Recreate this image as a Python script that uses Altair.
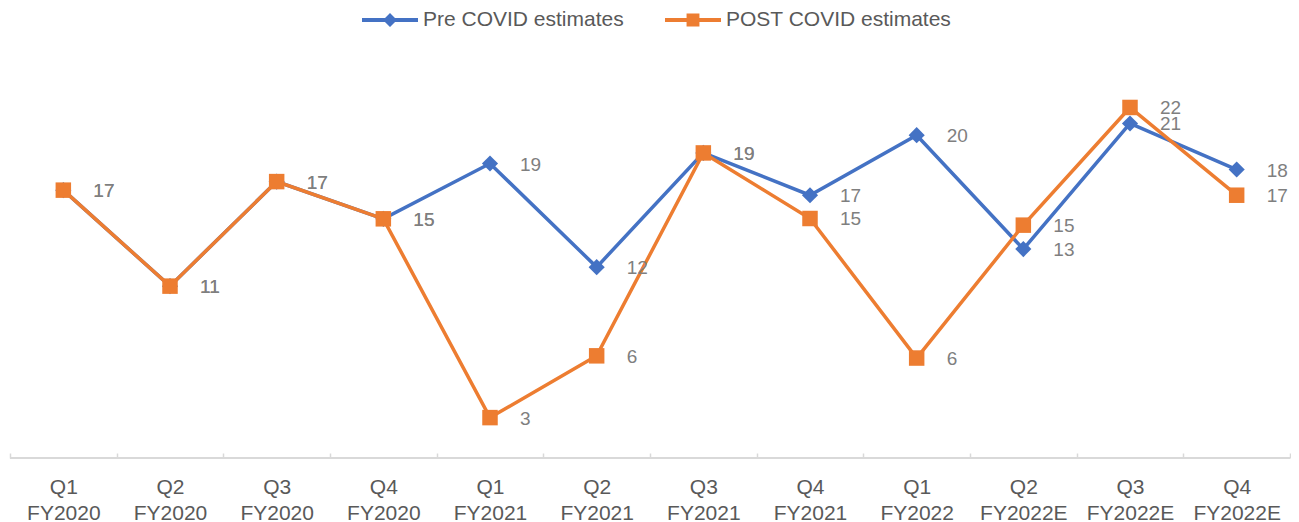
import altair as alt
import pandas as pd

FONT = "Liberation Sans"

categories = ["Q1 FY2020", "Q2 FY2020", "Q3 FY2020", "Q4 FY2020",
              "Q1 FY2021", "Q2 FY2021", "Q3 FY2021", "Q4 FY2021",
              "Q1 FY2022", "Q2 FY2022E", "Q3 FY2022E", "Q4 FY2022E"]
pre_covid = [16.91, 10.85, 17.45, 15.10, 18.59, 12.05, 19.26, 16.59, 20.38, 13.19, 21.12, 18.21]
post_covid = [16.91, 10.85, 17.45, 15.10, 2.55, 6.45, 19.26, 15.12, 6.31, 14.70, 22.13, 16.59]
series_names = ["Pre COVID estimates", "POST COVID estimates"]
series_colors = ["#4472C4", "#ED7D31"]
baseline = [0]

df = pd.DataFrame({
    "category": categories * 2,
    "value": pre_covid + post_covid,
    "series": [series_names[0]] * len(categories) + [series_names[1]] * len(categories),
})

x = alt.X("category:N", sort=categories,
          scale=alt.Scale(type="band", paddingInner=0, paddingOuter=0),
          axis=alt.Axis(title=None, domain=False, labelAngle=0,
                        labelExpr="split(datum.label, ' ')",
                        labelFont=FONT, labelFontSize=21, labelColor="#595959",
                        labelLineHeight=26, labelPadding=18,
                        tickBand="extent", tickSize=5, tickColor="#d9d9d9",
                        tickWidth=1.5, offset=-5))
y = alt.Y("value:Q", scale=alt.Scale(domain=[0, 25], nice=False), axis=None)

base = alt.Chart(df).encode(x=x, y=y)

def series_layers(name, color, shape, size):
    sub = base.transform_filter(alt.datum.series == name)
    line = sub.mark_line(color=color, strokeWidth=3.5)
    pts = sub.mark_point(shape=shape, filled=True, color=color, size=size, opacity=1)
    return line, pts

pre_line, pre_pts = series_layers(series_names[0], series_colors[0], "diamond", 260)
post_line, post_pts = series_layers(series_names[1], series_colors[1], "square", 240)

labels = base.mark_text(align="left", baseline="middle", dx=30, dy=1,
                        font=FONT, fontSize=19, color="#7f7f7f").encode(
    text=alt.Text("value:Q", format=".0f"))

axis_line = alt.Chart(pd.DataFrame({"value": baseline})).mark_rule(
    color="#d9d9d9", strokeWidth=2).encode(y=y)

pre_path = "M-1,-0.07L1,-0.07L1,0.07L-1,0.07Z M0,-0.25L0.25,0L0,0.25L-0.25,0Z"
post_path = "M-1,-0.07L1,-0.07L1,0.07L-1,0.07Z M-0.23,-0.23L0.23,-0.23L0.23,0.23L-0.23,0.23Z"

leg = alt.Legend(title=None, orient="none", legendX=352, legendY=-70,
                 direction="horizontal", symbolSize=3136, symbolStrokeWidth=0,
                 labelFont=FONT, labelFontSize=21, labelColor="#595959",
                 labelOffset=5, columnPadding=41, padding=0, labelLimit=400)

legend_layer = base.transform_filter(alt.datum.value < -1000).mark_point(
    filled=True, opacity=1).encode(
    color=alt.Color("series:N", scale=alt.Scale(domain=series_names, range=series_colors), legend=leg),
    shape=alt.Shape("series:N", scale=alt.Scale(domain=series_names, range=[pre_path, post_path]), legend=leg),
)

chart = alt.layer(axis_line, pre_line, pre_pts, post_line, post_pts, labels, legend_layer).properties(
    width=1280, height=396,
    padding={"left": 2, "top": 54, "right": 1, "bottom": 64},
    autosize=alt.AutoSizeParams(type="none"),
).configure_view(strokeWidth=0)

chart.save("out.html", embed_options={"renderer": "svg", "actions": False})
